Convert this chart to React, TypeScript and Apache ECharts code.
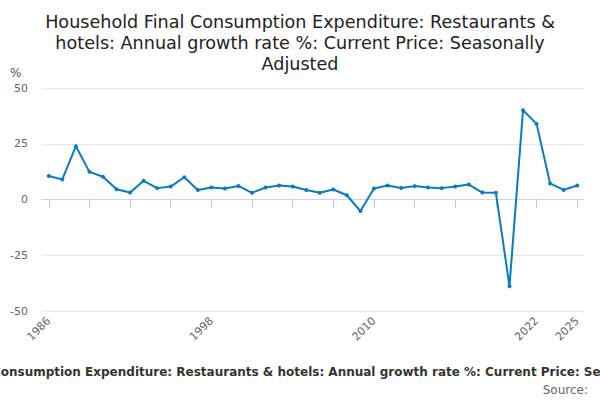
import { useEffect, useRef } from 'react'
import * as echarts from 'echarts'

const YEARS = Array.from({ length: 40 }, (_, i) => String(1986 + i))
const GROWTH = [
  10.5, 9, 23.9, 12.4, 10.2, 4.6, 3.1, 8.4, 5.1, 5.8,
  10, 4.3, 5.4, 4.9, 6.1, 3, 5.4, 6.3, 5.8, 4.3,
  3, 4.5, 1.9, -5.2, 4.9, 6.3, 5.2, 6, 5.4, 5.1,
  5.8, 6.7, 3.1, 3, -38.9, 40, 33.9, 7.2, 4.3, 6.3,
]
const FONT = 'DejaVu Sans, sans-serif'
const TITLE = 'Household Final Consumption Expenditure: Restaurants & hotels: Annual growth rate %: Current Price: Seasonally Adjusted'

export default function App() {
  const chartRef = useRef<HTMLDivElement>(null)

  useEffect(() => {
    if (!chartRef.current) return
    const chart = echarts.init(chartRef.current, null, { renderer: 'svg' })
    const last = YEARS.length - 1

    chart.setOption({
      animation: false,
      title: {
        text: 'Household Final Consumption Expenditure: Restaurants &\nhotels: Annual growth rate %: Current Price: Seasonally\nAdjusted',
        left: 'center',
        top: 6,
        textStyle: { fontFamily: FONT, fontSize: 17.6, fontWeight: 'normal', color: '#222', lineHeight: 21 },
      },
      graphic: [
        { type: 'text', left: 10, top: 67, style: { text: '%', font: `12px ${FONT}`, fill: '#555' } },
        {
          type: 'text', x: 300, y: 372,
          style: { text: TITLE, font: `bold 12px ${FONT}`, fill: '#333', textAlign: 'center', textVerticalAlign: 'middle' },
        },
        {
          type: 'text', x: 588, y: 390,
          style: { text: 'Source:', font: `12px ${FONT}`, fill: '#666', textAlign: 'right', textVerticalAlign: 'middle' },
        },
      ],
      grid: { left: 42, right: 16, top: 88, bottom: 89 },
      xAxis: {
        type: 'category',
        data: YEARS,
        boundaryGap: true,
        axisLine: { lineStyle: { color: '#ccd6eb' } },
        axisTick: {
          show: true,
          alignWithLabel: true,
          length: 8,
          lineStyle: { color: '#b8c5e0', width: 1 },
          interval: (i: number) => i % 3 === 0,
        },
        axisLabel: {
          rotate: 45,
          color: '#666',
          fontFamily: FONT,
          fontSize: 11,
          interval: (i: number) => i % 12 === 0 || i === last,
        },
      },
      yAxis: {
        type: 'value',
        min: -50,
        max: 50,
        interval: 25,
        axisLine: { show: false },
        axisTick: { show: false },
        axisLabel: { color: '#666', fontFamily: FONT, fontSize: 11, margin: 14 },
        splitLine: { lineStyle: { color: '#e6e6e6' } },
      },
      series: [
        {
          type: 'line',
          data: GROWTH,
          symbol: 'circle',
          symbolSize: 4,
          lineStyle: { color: '#0b7bc1', width: 2 },
          itemStyle: { color: '#0b7bc1' },
        },
      ],
    })

    return () => chart.dispose()
  }, [])

  return <div ref={chartRef} style={{ width: 600, height: 400, position: 'absolute', left: 0, top: 0 }} />
}
